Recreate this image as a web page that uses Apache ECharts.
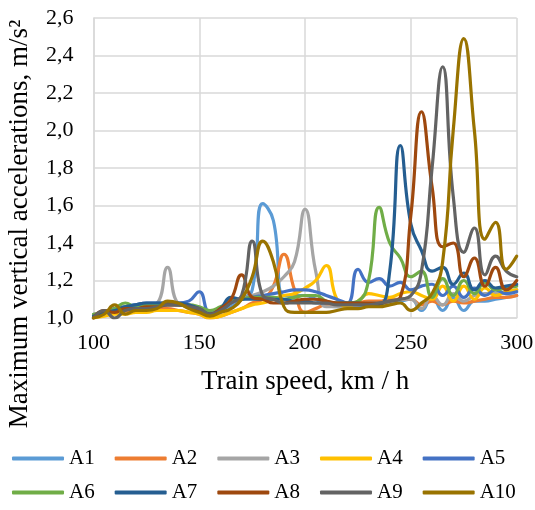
<!DOCTYPE html>
<html>
<head>
<meta charset="utf-8">
<script src="https://cdn.jsdelivr.net/npm/echarts@6/dist/echarts.min.js"></script>
<style>html,body{margin:0;padding:0;background:#fff}#c{width:535px;height:510px}</style>
</head>
<body>
<div id="c"></div>
<script>
var speeds = [100,105,110,115,120,125,130,135,140,145,150,155,160,165,170,175,180,185,190,195,200,205,210,215,220,225,230,235,240,245,250,255,260,265,270,275,280,285,290,295,300];
var seriesNames = ['A1','A2','A3','A4','A5','A6','A7','A8','A9','A10'];
var A1 = [1.01,1.03,1.05,1.06,1.07,1.07,1.07,1.07,1.07,1.06,1.04,1.01,1.03,1.06,1.10,1.15,1.61,1.52,1.12,1.12,1.12,1.10,1.07,1.06,1.06,1.06,1.07,1.07,1.08,1.09,1.10,1.04,1.11,1.04,1.11,1.04,1.09,1.09,1.10,1.11,1.12];
var A2 = [1.00,1.02,1.03,1.03,1.04,1.04,1.05,1.05,1.04,1.03,1.02,1.00,1.01,1.03,1.05,1.08,1.10,1.17,1.34,1.15,1.03,1.05,1.07,1.07,1.07,1.08,1.09,1.09,1.10,1.10,1.10,1.07,1.09,1.07,1.09,1.08,1.09,1.10,1.11,1.11,1.12];
var A3 = [1.02,1.03,1.03,1.05,1.06,1.07,1.08,1.27,1.08,1.07,1.05,1.02,1.05,1.08,1.10,1.12,1.14,1.17,1.22,1.30,1.58,1.25,1.06,1.06,1.06,1.07,1.08,1.08,1.09,1.10,1.10,1.05,1.12,1.07,1.13,1.09,1.12,1.13,1.13,1.14,1.15];
var A4 = [1.00,1.01,1.02,1.02,1.03,1.03,1.04,1.04,1.04,1.03,1.02,1.00,1.01,1.03,1.05,1.07,1.08,1.10,1.12,1.13,1.16,1.20,1.28,1.10,1.06,1.09,1.13,1.12,1.11,1.13,1.14,1.12,1.10,1.17,1.09,1.17,1.10,1.16,1.12,1.14,1.15];
var A5 = [1.01,1.03,1.05,1.06,1.07,1.08,1.08,1.08,1.08,1.09,1.14,1.03,1.04,1.08,1.10,1.11,1.12,1.13,1.14,1.15,1.15,1.14,1.12,1.10,1.08,1.26,1.19,1.21,1.17,1.19,1.15,1.17,1.18,1.12,1.17,1.11,1.16,1.12,1.15,1.13,1.14];
var A6 = [1.02,1.03,1.05,1.08,1.06,1.07,1.07,1.08,1.07,1.07,1.06,1.04,1.06,1.09,1.10,1.11,1.11,1.11,1.10,1.11,1.12,1.12,1.09,1.08,1.08,1.09,1.20,1.59,1.40,1.32,1.22,1.25,1.11,1.21,1.12,1.20,1.13,1.19,1.15,1.16,1.17];
var A7 = [1.01,1.03,1.04,1.06,1.07,1.08,1.08,1.08,1.08,1.07,1.05,1.02,1.05,1.11,1.10,1.10,1.10,1.10,1.10,1.09,1.09,1.08,1.08,1.08,1.08,1.08,1.07,1.07,1.25,1.92,1.50,1.36,1.25,1.27,1.18,1.24,1.15,1.20,1.16,1.17,1.18];
var A8 = [1.00,1.04,1.03,1.05,1.05,1.06,1.06,1.07,1.07,1.06,1.04,1.02,1.05,1.10,1.23,1.11,1.10,1.08,1.08,1.09,1.10,1.10,1.09,1.08,1.08,1.08,1.08,1.08,1.09,1.11,1.55,2.10,1.70,1.38,1.40,1.22,1.32,1.17,1.27,1.15,1.20];
var A9 = [1.00,1.04,1.00,1.04,1.05,1.05,1.06,1.07,1.07,1.06,1.05,1.02,1.04,1.08,1.12,1.41,1.12,1.10,1.08,1.08,1.08,1.08,1.08,1.07,1.07,1.07,1.07,1.08,1.09,1.10,1.12,1.25,1.80,2.34,1.65,1.35,1.48,1.23,1.33,1.25,1.22];
var A10 = [1.00,1.02,1.07,1.02,1.04,1.04,1.05,1.09,1.08,1.05,1.03,1.01,1.03,1.05,1.10,1.22,1.41,1.30,1.06,1.03,1.03,1.03,1.03,1.04,1.05,1.05,1.06,1.06,1.07,1.08,1.04,1.08,1.13,1.30,2.00,2.49,2.00,1.42,1.51,1.26,1.33];
var xTicks = [100,150,200,250,300];
var yTicks = [1.0,1.2,1.4,1.6,1.8,2.0,2.2,2.4,2.6];
var colors = ['#5B9BD5','#ED7D31','#A5A5A5','#FFC000','#4472C4','#70AD47','#255E91','#9E480E','#636363','#997300'];
var allValues = [A1,A2,A3,A4,A5,A6,A7,A8,A9,A10];
var xTitle = 'Train speed, km / h';
var yTitle = 'Maximum vertical accelerations, m/s\u00B2';

var FONT = 'Liberation Serif';
var chart = echarts.init(document.getElementById('c'), null, {renderer:'canvas'});
var series = seriesNames.map(function(name, i){
  return {
    name: name, type: 'line', smooth: 0.5, showSymbol: false, symbol: 'none',
    data: speeds.map(function(s, j){ return [s, allValues[i][j]]; }),
    lineStyle: {width: 3.2, color: colors[i], cap: 'round'},
    itemStyle: {color: colors[i]},
    z: 2 + i
  };
});
function legendRow(names, top){
  return {
    data: names, left: 12, top: top, orient: 'horizontal', padding: 0,
    icon: 'roundRect', itemWidth: 52, itemHeight: 4, itemGap: 20,
    textStyle: {fontFamily: FONT, fontSize: 21, color: '#000'}
  };
}
chart.setOption({
  animation: false,
  color: colors,
  grid: {left: 93.5, right: 18.3, top: 18, bottom: 192, containLabel: false, outerBoundsMode: 'none'},
  xAxis: {
    type: 'value', min: xTicks[0], max: xTicks[xTicks.length-1], interval: 50,
    name: xTitle, nameLocation: 'middle', nameGap: 50,
    nameTextStyle: {fontFamily: FONT, fontSize: 27, color: '#000'},
    axisLine: {show: true, lineStyle: {color: '#d9d9d9', width: 1.5}},
    axisTick: {show: false},
    axisLabel: {fontFamily: FONT, fontSize: 22, color: '#000', margin: 14},
    splitLine: {show: true, lineStyle: {color: '#d9d9d9', width: 1.5}}
  },
  yAxis: {
    type: 'value', min: yTicks[0], max: yTicks[yTicks.length-1], interval: 0.2,
    axisLine: {show: true, lineStyle: {color: '#d9d9d9', width: 1.5}},
    axisTick: {show: false},
    axisLabel: {fontFamily: FONT, fontSize: 22, color: '#000', margin: 20,
      formatter: function(v){ return v.toFixed(1).replace('.', ','); }},
    splitLine: {show: true, lineStyle: {color: '#d9d9d9', width: 1.5}}
  },
  graphic: [{
    type: 'text', x: 20, y: 224, rotation: Math.PI / 2,
    style: {text: yTitle, fontFamily: FONT, fontSize: 27, fill: '#000', align: 'center', verticalAlign: 'middle'}
  }],
  legend: [legendRow(seriesNames.slice(0,5), 448), legendRow(seriesNames.slice(5), 482)],
  series: series
});
</script>
</body>
</html>
